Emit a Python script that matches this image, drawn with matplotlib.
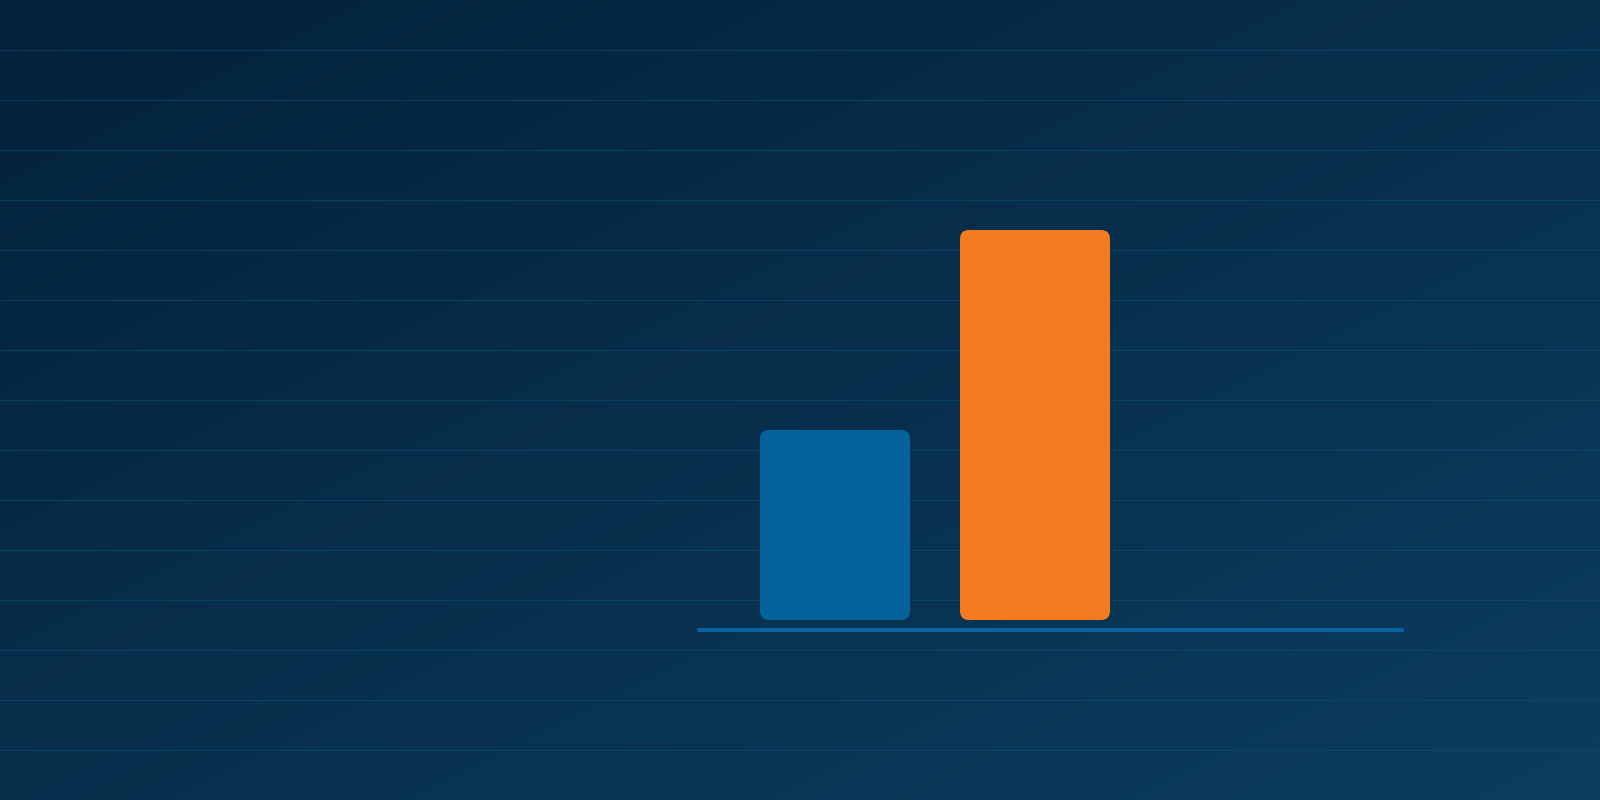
import numpy as np
import matplotlib
matplotlib.use("Agg")
import matplotlib.pyplot as plt
from matplotlib.patches import FancyBboxPatch
from matplotlib.colors import LinearSegmentedColormap

# data
categories = ["A", "B"]
values = [38, 78]
bar_colors = ["#05639b", "#f47b20"]

fig = plt.figure(figsize=(16, 8), dpi=100)
ax = fig.add_axes([0, 0, 1, 1])

# background gradient, dark top-left to lighter bottom-right
gx, gy = np.meshgrid(np.linspace(0, 1, 400), np.linspace(0, 1, 200))
grad = (gx + gy) / 2
cmap = LinearSegmentedColormap.from_list("bg", ["#04223a", "#0b3d5f"])
ax.imshow(grad, extent=[0, 1, 0, 1], transform=ax.transAxes,
          cmap=cmap, aspect="auto", origin="upper", zorder=0)

x = np.arange(len(categories))
width = 0.75
bars = ax.bar(x, values, width=width, color=bar_colors, zorder=3)

# swap plain bars for rounded ones
for b, c in zip(bars, bar_colors):
    b.set_visible(False)
    p = FancyBboxPatch((b.get_x(), b.get_y()), b.get_width(), b.get_height(),
                       boxstyle="round,pad=0,rounding_size=0.045",
                       mutation_aspect=40, fc=c, ec="none", zorder=3)
    ax.add_patch(p)

# baseline
ax.plot([-0.68, 2.835], [-2, -2], color="#0a62a0", lw=3,
        solid_capstyle="round", zorder=2)

ax.set_xlim(-4.175, 3.825)
ax.set_ylim(-36, 124)
ax.set_yticks(np.arange(-26, 124, 10))
ax.set_xticks([])
ax.grid(axis="y", color="#0f5a80", lw=0.8, alpha=0.45, zorder=1)
ax.tick_params(left=False, labelleft=False)
for s in ax.spines.values():
    s.set_visible(False)

fig.savefig("out.png", dpi=100)
